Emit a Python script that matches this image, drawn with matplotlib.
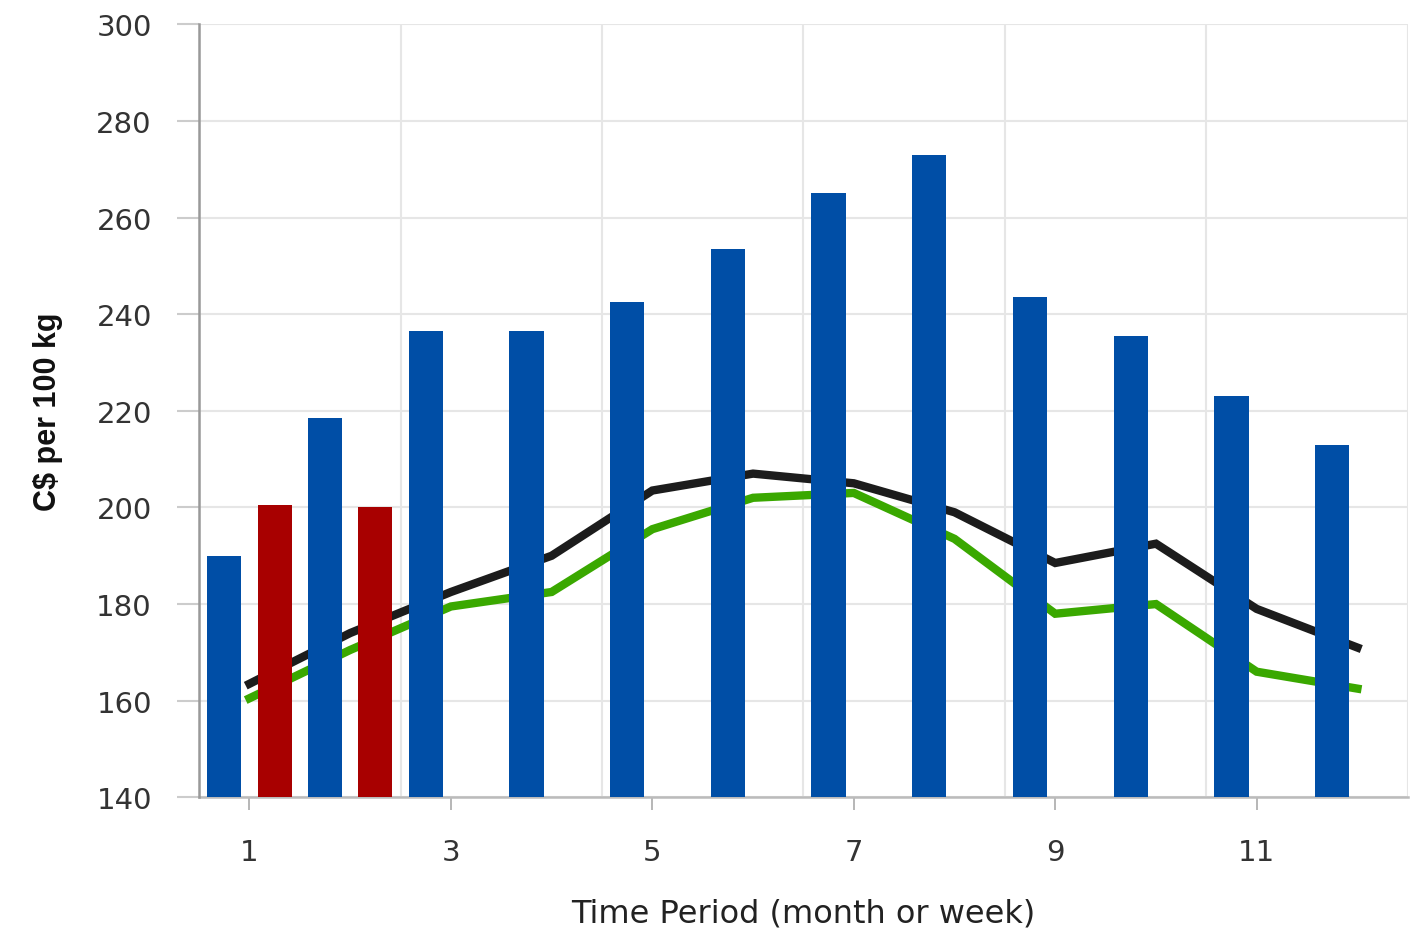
import matplotlib
matplotlib.use("Agg")
from matplotlib import pyplot as plt
import numpy as np

# data
periods = np.arange(1, 13)
blue_vals = [190, 218.5, 236.5, 236.5, 242.5, 253.5, 265, 273, 243.5, 235.5, 223, 213]
red_periods = [1, 2]
red_vals = [200.5, 200]
black_vals = [163.5, 174, 182.5, 190, 203.5, 207, 205, 199, 188.5, 192.5, 179, 171]
green_vals = [160.5, 170.5, 179.5, 182.5, 195.5, 202, 203, 193.5, 178, 180, 166, 162.5]

y_ticks = [140, 160, 180, 200, 220, 240, 260, 280, 300]
x_ticks = [1, 3, 5, 7, 9, 11]


def main():
    fig = plt.figure(figsize=(14.12, 9.37), dpi=100)
    ax = fig.add_axes([0.141, 0.148, 0.856, 0.825])

    # lines sit behind the bars
    ax.plot(periods, black_vals, color="#1c1c1c", lw=6, zorder=2,
            solid_joinstyle="miter")
    ax.plot(periods, green_vals, color="#3aa800", lw=6, zorder=2,
            solid_joinstyle="miter")

    ax.bar(periods - 0.25, blue_vals, width=0.34,
           color="#004ea6", zorder=3)
    ax.bar(np.array(red_periods) + 0.25, red_vals, width=0.34,
           color="#a80000", zorder=3)

    ax.set_xlim(0.5, 12.5)
    ax.set_ylim(140, 300)

    ax.set_yticks(y_ticks)
    ax.set_xticks(x_ticks)
    ax.set_xticks(np.arange(0.5, 13, 2), minor=True)
    ax.grid(False)
    ax.grid(axis="y", which="major", color="#e6e6e6", lw=1.5, zorder=0)
    ax.grid(axis="x", which="minor", color="#e6e6e6", lw=1.5, zorder=0)

    ax.tick_params(axis="y", which="major", length=16, width=1.5,
                   color="#cccccc", pad=18, labelsize=21, labelcolor="#333333")
    ax.tick_params(axis="x", which="major", length=9, width=1.2,
                   color="#aaaaaa", pad=20, labelsize=21, labelcolor="#333333")
    ax.tick_params(axis="x", which="minor", length=0)

    for s in ("top", "right"):
        ax.spines[s].set_visible(False)
    ax.spines["left"].set_color("#999999")
    ax.spines["left"].set_linewidth(1.8)
    ax.spines["bottom"].set_color("#bbbbbb")
    ax.spines["bottom"].set_linewidth(1.8)
    ax.spines["left"].set_zorder(4)

    ax.set_xlabel("Time Period (month or week)", family="DejaVu Sans",
                  fontsize=23, color="#222222")
    ax.xaxis.set_label_coords(0.5, -0.13)
    ax.set_ylabel("C$ per 100 kg", family="Liberation Sans",
                  fontsize=22, fontweight="bold", color="#111111")
    ax.yaxis.set_label_coords(-0.113, 0.5)

    fig.savefig("out.png", dpi=100)


if __name__ == '__main__':
    main()
